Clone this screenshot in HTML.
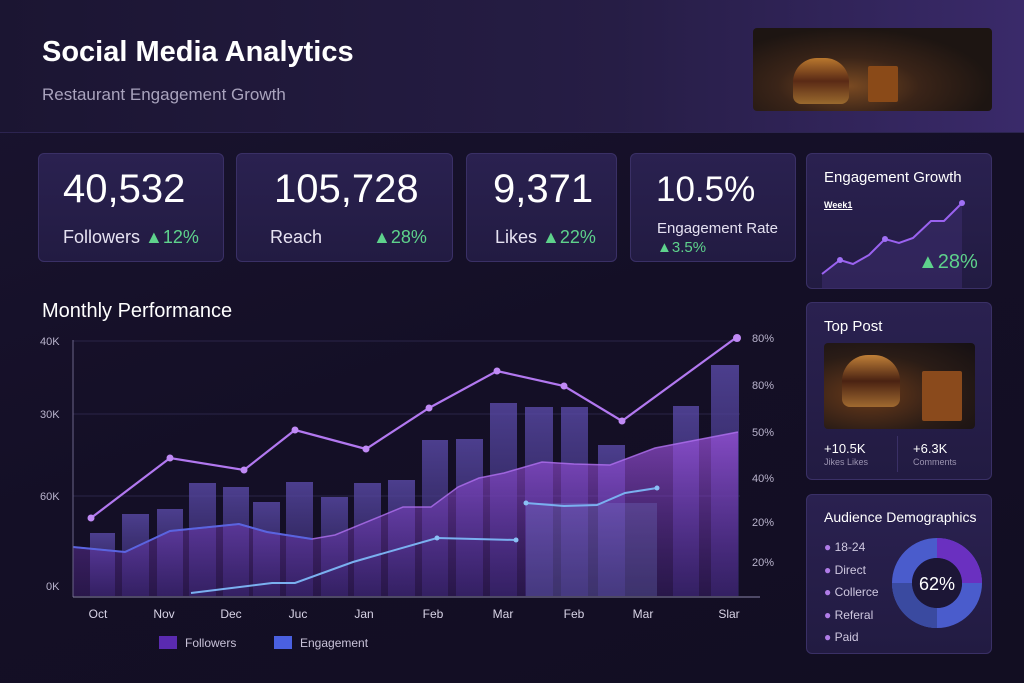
<!DOCTYPE html>
<html><head><meta charset="utf-8"><style>
*{margin:0;padding:0;box-sizing:border-box}
body{width:1024px;height:683px;overflow:hidden;background:linear-gradient(160deg,#1a1430 0%,#140f26 50%,#120e22 100%);font-family:"Liberation Sans",sans-serif;color:#fff;position:relative}
.hdr{position:absolute;left:0;top:0;width:1024px;height:133px;background:linear-gradient(90deg,#1b1532 0%,#261d45 60%,#3a2a6a 100%);border-bottom:1px solid #2c2450}
.card{position:absolute;background:linear-gradient(180deg,#2a2150,#221b42);border:1px solid #3a3066;border-radius:6px}
.abs{position:absolute;white-space:nowrap}
.big{font-size:40px;font-weight:400}
.lbl{font-size:18px;color:#e6e2f2}
.grn{color:#5ed28c}
.ax{font-size:11px;color:#b9b3cc}
</style></head><body>
<div class="hdr"></div>
<div class="abs" style="left:42px;top:36px;font-size:29px;font-weight:bold">Social Media Analytics</div>
<div class="abs" style="left:42px;top:85px;font-size:17px;color:#a9a3bd">Restaurant Engagement Growth</div>
<div class="abs" style="left:753px;top:28px;width:239px;height:83px;border-radius:4px;background:radial-gradient(ellipse at 40% 70%,#7a4a22 0%,#3a2418 35%,#1d1512 70%);">
<div class="abs" style="left:40px;top:30px;width:56px;height:46px;border-radius:24px 24px 8px 8px;background:linear-gradient(#b8772e,#5a2a15 50%,#9a6a2e)"></div>
<div class="abs" style="left:115px;top:38px;width:30px;height:36px;background:#8a4a18;border-radius:2px"></div></div>

<div class="card" style="left:38px;top:153px;width:186px;height:109px"></div>
<div class="abs big" style="left:63px;top:167px">40,532</div>
<div class="abs lbl" style="left:63px;top:227px">Followers <span class="grn">▲12%</span></div>
<div class="card" style="left:236px;top:153px;width:217px;height:109px"></div>
<div class="abs big" style="left:274px;top:167px">105,728</div>
<div class="abs lbl" style="left:270px;top:227px">Reach <span class="grn" style="margin-left:46px">▲28%</span></div>
<div class="card" style="left:466px;top:153px;width:151px;height:109px"></div>
<div class="abs big" style="left:493px;top:167px">9,371</div>
<div class="abs lbl" style="left:495px;top:227px">Likes <span class="grn">▲22%</span></div>
<div class="card" style="left:630px;top:153px;width:166px;height:109px"></div>
<div class="abs" style="left:656px;top:170px;font-size:35px">10.5%</div>
<div class="abs" style="left:657px;top:220px;font-size:15px;color:#e6e2f2">Engagement Rate</div>
<div class="abs grn" style="left:657px;top:239px;font-size:15px">▲3.5%</div>

<div class="card" style="left:806px;top:153px;width:186px;height:136px"></div>
<div class="abs" style="left:824px;top:169px;font-size:15px">Engagement Growth</div>
<div class="abs" style="left:824px;top:200px;font-size:9px;text-decoration:underline;font-weight:bold">Week1</div>
<svg class="abs" style="left:806px;top:153px" width="186" height="136">
<path d="M16 121 L34 107 L47 111 L63 102 L79 86 L93 90 L107 85 L125 68 L138 68 L156 50 L156 136 L16 136Z" fill="#3a2c6a" opacity=".6"/>
<polyline points="16,121 34,107 47,111 63,102 79,86 93,90 107,85 125,68 138,68 156,50" fill="none" stroke="#9a62f0" stroke-width="2"/>
<circle cx="34" cy="107" r="3" fill="#a070f5"/><circle cx="79" cy="86" r="3" fill="#a070f5"/><circle cx="156" cy="50" r="3" fill="#a070f5"/></svg>
<div class="abs grn" style="left:918px;top:251px;font-size:20px">▲28%</div>

<div class="card" style="left:806px;top:302px;width:186px;height:178px"></div>
<div class="abs" style="left:824px;top:318px;font-size:15px">Top Post</div>
<div class="abs" style="left:824px;top:343px;width:151px;height:86px;border-radius:4px;background:radial-gradient(ellipse at 30% 60%,#6a3a1a,#2a1c16 55%,#151013)">
<div class="abs" style="left:18px;top:12px;width:58px;height:52px;border-radius:26px 26px 8px 8px;background:linear-gradient(#c08038,#4a2212 50%,#a06a30)"></div>
<div class="abs" style="left:98px;top:28px;width:40px;height:50px;background:#8a4a1c;border-radius:2px"></div></div>
<div class="abs" style="left:824px;top:441px;font-size:13px">+10.5K</div>
<div class="abs" style="left:824px;top:457px;font-size:9px;color:#9a93b0">Jikes Likes</div>
<div class="abs" style="left:897px;top:436px;width:1px;height:36px;background:#3a3066"></div>
<div class="abs" style="left:913px;top:441px;font-size:13px">+6.3K</div>
<div class="abs" style="left:913px;top:457px;font-size:9px;color:#9a93b0">Comments</div>

<div class="card" style="left:806px;top:494px;width:186px;height:160px"></div>
<div class="abs" style="left:824px;top:509px;font-size:14px">Audience Demographics</div>
<div class="abs" style="left:824px;top:536px;font-size:12px;color:#cfc8e0;line-height:22.5px">
<div><span style="color:#b07ce8">●</span> 18-24</div><div><span style="color:#b07ce8">●</span> Direct</div><div><span style="color:#b07ce8">●</span> Collerce</div><div><span style="color:#b07ce8">●</span> Referal</div><div><span style="color:#b07ce8">●</span> Paid</div></div>
<svg class="abs" style="left:890px;top:536px" width="94" height="94"><g transform="translate(47,47)">
<circle r="35" fill="none" stroke="#4a5ccc" stroke-width="20"/>
<path d="M0 -35 A35 35 0 0 1 35 0" fill="none" stroke="#6a30c0" stroke-width="20"/>
<path d="M-35 0 A35 35 0 0 0 0 35" fill="none" stroke="#3a4aa0" stroke-width="20"/>
<circle r="25" fill="#1c1636"/>
<text y="7" text-anchor="middle" font-size="18" fill="#fff" font-family="Liberation Sans">62%</text></g></svg>

<div class="abs" style="left:42px;top:300px;font-size:20px">Monthly Performance</div>
<svg class="abs" style="left:0;top:0" width="800" height="683">
<defs><linearGradient id="ar" x1="0" y1="0" x2="0" y2="1"><stop offset="0" stop-color="#a656e8" stop-opacity=".9"/><stop offset="1" stop-color="#5a2aa0" stop-opacity=".4"/></linearGradient>
<linearGradient id="br" x1="0" y1="0" x2="0" y2="1"><stop offset="0" stop-color="#5a4aa8" stop-opacity=".8"/><stop offset="1" stop-color="#2e2460" stop-opacity=".6"/></linearGradient></defs>
<g stroke="#2a2448" stroke-width="1"><line x1="73" y1="341" x2="740" y2="341"/><line x1="73" y1="414" x2="740" y2="414"/><line x1="73" y1="496" x2="740" y2="496"/></g>
<g fill="url(#br)">
<rect x="90" y="533" width="25" height="63"/><rect x="122" y="514" width="27" height="82"/><rect x="157" y="509" width="26" height="87"/><rect x="189" y="483" width="27" height="113"/><rect x="223" y="487" width="26" height="109"/><rect x="253" y="502" width="27" height="94"/><rect x="286" y="482" width="27" height="114"/><rect x="321" y="497" width="27" height="99"/><rect x="354" y="483" width="27" height="113"/><rect x="388" y="480" width="27" height="116"/><rect x="422" y="440" width="26" height="156"/><rect x="456" y="439" width="27" height="157"/><rect x="490" y="403" width="27" height="193"/><rect x="525" y="407" width="28" height="189"/><rect x="561" y="407" width="27" height="189"/><rect x="598" y="445" width="27" height="151"/><rect x="673" y="406" width="26" height="190"/><rect x="711" y="365" width="28" height="231"/></g>
<path d="M73 547 L125 552 L170 531 L239 524 L267 532 L312 539 L335 535 L403 507 L431 507 L458 487 L479 478 L504 473 L542 462 L574 464 L610 465 L655 448 L738 432 L738 596 L73 596Z" fill="url(#ar)" opacity=".75"/>
<polyline points="73,547 125,552 170,531 239,524 267,532 312,539 335,535 403,507 431,507 458,487 479,478 504,473 542,462 574,464 610,465 655,448 738,432" fill="none" stroke="#b070f0" stroke-width="1.5" opacity=".8"/>
<path d="M73 547 L125 552 L170 531 L239 524 L267 532 L312 539" fill="none" stroke="#5a64e0" stroke-width="2"/>
<rect x="526" y="503" width="131" height="93" fill="#7a86d8" opacity=".25"/>
<g fill="none" stroke="#7ab0f0" stroke-width="2"><polyline points="191,593 272,583 295,583 353,562 437,538 516,540"/><polyline points="526,503 564,506 597,505 625,493 657,488"/></g>
<g fill="#8ac0f5"><circle cx="437" cy="538" r="2.5"/><circle cx="516" cy="540" r="2.5"/><circle cx="526" cy="503" r="2.5"/><circle cx="657" cy="488" r="2.5"/></g>
<polyline points="91,518 170,458 244,470 295,430 366,449 429,408 497,371 564,386 622,421 737,337" fill="none" stroke="#b278f0" stroke-width="2.2"/>
<g fill="#c08af5"><circle cx="91" cy="518" r="3.5"/><circle cx="170" cy="458" r="3.5"/><circle cx="244" cy="470" r="3.5"/><circle cx="295" cy="430" r="3.5"/><circle cx="366" cy="449" r="3.5"/><circle cx="429" cy="408" r="3.5"/><circle cx="497" cy="371" r="3.5"/><circle cx="564" cy="386" r="3.5"/><circle cx="622" cy="421" r="3.5"/><circle cx="737" cy="338" r="4"/></g>
<line x1="73" y1="340" x2="73" y2="597" stroke="#6a6488"/><line x1="73" y1="597" x2="760" y2="597" stroke="#8a84a8"/>
<g class="ax" font-size="11" fill="#b9b3cc" font-family="Liberation Sans">
<text x="40" y="345">40K</text><text x="40" y="418">30K</text><text x="40" y="500">60K</text><text x="46" y="590">0K</text>
<text x="752" y="342">80%</text><text x="752" y="389">80%</text><text x="752" y="436">50%</text><text x="752" y="482">40%</text><text x="752" y="526">20%</text><text x="752" y="566">20%</text></g>
<g font-size="12" fill="#d8d3e6" font-family="Liberation Sans" text-anchor="middle">
<text x="98" y="618">Oct</text><text x="164" y="618">Nov</text><text x="231" y="618">Dec</text><text x="298" y="618">Juc</text><text x="364" y="618">Jan</text><text x="433" y="618">Feb</text><text x="503" y="618">Mar</text><text x="574" y="618">Feb</text><text x="643" y="618">Mar</text><text x="729" y="618">Slar</text></g>
<rect x="159" y="636" width="18" height="13" fill="#5a2ab0"/><text x="185" y="647" font-size="12" fill="#c8c2d8" font-family="Liberation Sans">Followers</text>
<rect x="274" y="636" width="18" height="13" fill="#4a60e0"/><text x="300" y="647" font-size="12" fill="#c8c2d8" font-family="Liberation Sans">Engagement</text>
</svg>
</body></html>
